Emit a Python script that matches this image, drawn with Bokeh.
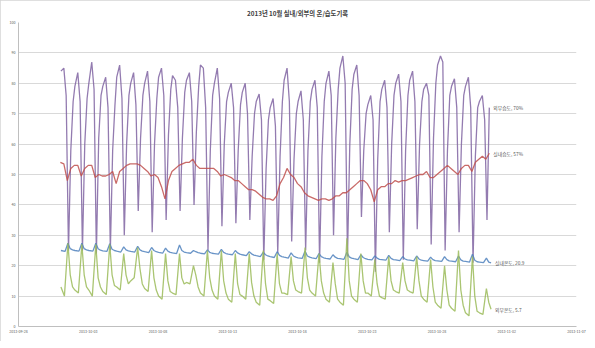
from bokeh.plotting import figure
from bokeh.models import Range1d, FixedTicker, ColumnDataSource, InlineStyleSheet
from bokeh.core.properties import value
from bokeh.embed import file_html
from bokeh.resources import INLINE

TITLE = "2013년 10월 실내/외부의 온/습도기록"

# x axis: days counted from 2013-09-28 00:00
TICK_POS = [0, 5, 10, 15, 20, 25, 30, 35, 40]
TICK_LABELS = ["2013-09-28", "2013-10-03", "2013-10-08", "2013-10-13", "2013-10-18",
               "2013-10-23", "2013-10-28", "2013-11-02", "2013-11-07"]
OCT1_OFFSET = 3  # 2013-10-01 is 3 days after 2013-09-28
Y_TICKS = list(range(0, 101, 10))

# 외부습도 (outdoor humidity, %), readings at these hours of each October day
HUM_OUT_HOURS = [1, 6, 10, 14, 18, 22]
hum_out = [
    [84, 85, 76, 25, 58, 74], [79, 83.5, 74, 25, 60, 75], [80, 87, 78, 24, 62, 76],
    [79, 82, 72, 25, 58, 73], [82, 86, 75, 30, 60, 76], [80, 83.5, 73, 38, 62, 76],
    [80, 84, 74, 31, 60, 75], [82, 85, 76, 35, 63, 78], [82.5, 81, 72, 38, 62, 77],
    [81, 83.5, 74, 40, 64, 79], [86, 85, 72, 25, 58, 76], [80, 85, 75, 33, 60, 74],
    [77, 80, 72, 34, 58, 73], [77, 80, 70, 35, 56, 70], [74, 76.5, 68, 22, 52, 68],
    [72, 75, 66, 24, 56, 74], [81, 85, 74, 28, 55, 70], [74, 77.5, 68, 25, 58, 74],
    [78, 81, 72, 21, 56, 74], [80, 84, 76, 30, 62, 78], [85, 89, 80, 23, 60, 78],
    [83, 86, 76, 36, 58, 70], [73, 76, 68, 18, 55, 74], [78, 81, 72, 31, 60, 76],
    [80, 83, 74, 22, 58, 76], [81, 84, 74, 32, 60, 74], [78, 80, 76, 27, 62, 80],
    [86, 89, 87, 25, 58, 76], [79, 81.5, 72, 31, 60, 76], [79, 82, 72, 21, 56, 72],
    [74, 76, 68, 35, 72],
]

# 실내습도 (indoor humidity, %)
HUM_IN_HOURS = [0, 6, 12, 18]
hum_in = [
    [54, 53.5, 48, 52], [53, 53, 49.5, 52], [53, 53, 49, 50], [49.5, 49.5, 50, 51],
    [47, 51, 52, 53], [53.5, 53.5, 53.5, 53], [52, 51, 49.5, 50], [49, 46, 42, 48],
    [51, 52, 53, 53.5], [54, 54, 55, 53], [52, 52, 52, 52], [52, 51, 49.5, 50],
    [49.5, 49, 48, 48], [47, 46, 45, 45], [44.5, 43.5, 42.5, 42], [42, 41.5, 43, 47],
    [49, 52, 50, 49], [47, 46, 44, 43], [42.5, 42, 41.5, 42], [42, 41.5, 42, 43],
    [43, 44, 44, 45], [46, 47, 48, 48], [47, 45, 41, 45], [46, 46, 47, 47],
    [48, 47.5, 48, 48], [48.5, 49, 49.5, 50], [50, 51, 49, 49], [50, 51, 52, 53],
    [52, 51, 50, 52], [53, 53, 51, 54], [55, 56, 55, 57],
]

# 실내온도 (indoor temperature, °C)
TEMP_IN_HOURS = [1, 8, 13, 17, 21]
temp_in = [
    [25.0, 24.7, 27.4, 25.6, 25.2], [25.0, 24.8, 27.4, 25.6, 25.2], [25.0, 24.8, 27.4, 25.6, 25.1],
    [24.9, 24.7, 27.2, 25.4, 25.0], [24.8, 24.5, 26.2, 25.2, 24.9], [24.7, 24.5, 26.4, 25.2, 24.8],
    [24.6, 24.3, 26.0, 25.0, 24.6], [24.4, 24.1, 25.8, 24.8, 24.4], [24.2, 24.0, 26.8, 25.0, 24.5],
    [24.3, 24.1, 25.0, 24.6, 24.3], [24.1, 23.9, 25.2, 24.4, 24.1], [24.0, 23.8, 25.4, 24.4, 24.0],
    [23.8, 23.6, 25.0, 24.2, 23.8], [23.6, 23.3, 24.6, 23.9, 23.5], [23.3, 23.0, 24.4, 23.6, 23.2],
    [23.0, 22.7, 24.6, 23.4, 23.0], [22.8, 22.5, 24.2, 23.2, 22.8], [22.6, 22.4, 24.8, 23.2, 22.8],
    [22.6, 22.3, 24.0, 23.0, 22.6], [22.4, 22.2, 23.6, 22.8, 22.4], [22.3, 22.1, 24.4, 22.9, 22.5],
    [22.3, 22.0, 23.6, 22.7, 22.3], [22.1, 21.9, 23.2, 22.5, 22.1], [22.0, 21.8, 23.4, 22.4, 22.0],
    [21.9, 21.7, 23.0, 22.2, 21.9], [21.8, 21.6, 23.2, 22.2, 21.8], [21.7, 21.5, 22.8, 22.0, 21.7],
    [21.6, 21.4, 23.0, 22.0, 21.6], [21.5, 21.3, 23.2, 21.9, 21.5], [21.4, 21.2, 23.8, 21.8, 21.3],
    [21.2, 21.0, 22.5, 21.2, 20.9],
]

# 외부온도 (outdoor temperature, °C)
TEMP_OUT_HOURS = [1, 7, 13, 17, 21]
temp_out = [
    [13, 10, 27.4, 17, 13], [12, 11, 27, 17, 13], [12, 10, 27, 16, 13], [11.5, 10.5, 27, 17, 13.5],
    [13, 12, 24, 17, 14], [15, 16, 26, 19, 14], [12.5, 11.5, 25, 16, 12], [10, 9, 24, 15, 11.5],
    [11, 10.5, 24, 16, 14], [14.5, 14, 20, 17, 13], [11, 10, 25, 16, 12], [10, 9, 25, 15, 11],
    [9, 8, 24, 14, 10.5], [10, 9, 24, 14.5, 10], [8, 7, 25, 14, 9], [8.5, 7.6, 24, 14, 11],
    [11, 10.5, 23, 15, 12], [11.5, 11, 26, 16, 12], [11, 10, 24, 15, 11], [9, 8, 21, 14, 9],
    [8, 7, 29, 15, 10], [9, 8, 24, 15, 11], [11, 10, 22, 14, 10], [9.5, 9, 23, 15, 12],
    [11.5, 11, 21, 15, 12], [11.5, 11, 23, 15, 10], [9, 8, 22, 13, 8], [7, 6, 20, 12, 7],
    [6, 5, 25, 12, 7], [4.5, 3.5, 23, 10, 5], [4.5, 4, 12.5, 8, 5.7],
]

END_LABELS = ["외부습도, 70%", "실내습도, 57%", "실내온도, 20.9", "외부온도, 5.7"]
COLORS = ["#8064A2", "#C0504D", "#4F81BD", "#9BBB59"]


def flatten(rows, hours):
    xs, ys = [], []
    for d, row in enumerate(rows):
        for h, v in zip(hours, row):
            xs.append(OCT1_OFFSET + d + h / 24.0)
            ys.append(v)
    return xs, ys


series = [flatten(hum_out, HUM_OUT_HOURS), flatten(hum_in, HUM_IN_HOURS),
          flatten(temp_in, TEMP_IN_HOURS), flatten(temp_out, TEMP_OUT_HOURS)]

FONT = "Noto Sans CJK KR"

p = figure(width=590, height=341, output_backend="svg", toolbar_location=None,
           x_range=Range1d(0, 40), y_range=Range1d(0, 100),
           min_border_left=18, min_border_right=14, min_border_top=22, min_border_bottom=15)
p.stylesheets = [InlineStyleSheet(css=":host { outline: 1px solid #d4d4d4; outline-offset: -1px; }")]
p.outline_line_color = None
p.background_fill_color = "white"
p.border_fill_color = "white"

p.title.text = TITLE
p.title.align = "center"
p.title.text_font = FONT
p.title.text_font_size = "6.3px"
p.title.text_font_style = "bold"
p.title.text_color = "#404040"
p.title.standoff = 9

p.xaxis.ticker = FixedTicker(ticks=TICK_POS)
p.xaxis.major_label_overrides = {t: l for t, l in zip(TICK_POS, TICK_LABELS)}
p.yaxis.ticker = FixedTicker(ticks=Y_TICKS)
for ax in (p.xaxis, p.yaxis):
    ax.axis_line_color = "#bfbfbf"
    ax.major_tick_line_color = None
    ax.minor_tick_line_color = None
    ax.major_tick_out = 0
    ax.major_tick_in = 0
    ax.minor_tick_out = 0
    ax.minor_tick_in = 0
    ax.major_label_text_font = FONT
    ax.major_label_text_font_size = "3.6px"
    ax.major_label_text_color = "#595959"
    ax.major_label_standoff = 3
p.xgrid.visible = False
p.ygrid.grid_line_color = "#d9d9d9"
p.ygrid.grid_line_width = 1

for (xs, ys), c in zip(series, COLORS):
    p.line(xs, ys, line_color=c, line_width=1.3, line_alpha=0.85)

lab = ColumnDataSource(dict(
    x=[s[0][-1] for s in series],
    y=[s[1][-1] for s in series],
    t=END_LABELS,
))
p.text(x="x", y="y", text="t", source=lab, x_offset=4, text_align="left",
       text_baseline="middle", text_font=value(FONT), text_font_size="4.8px",
       text_color="#595959")

open("out.html", "w").write(file_html(p, INLINE))
